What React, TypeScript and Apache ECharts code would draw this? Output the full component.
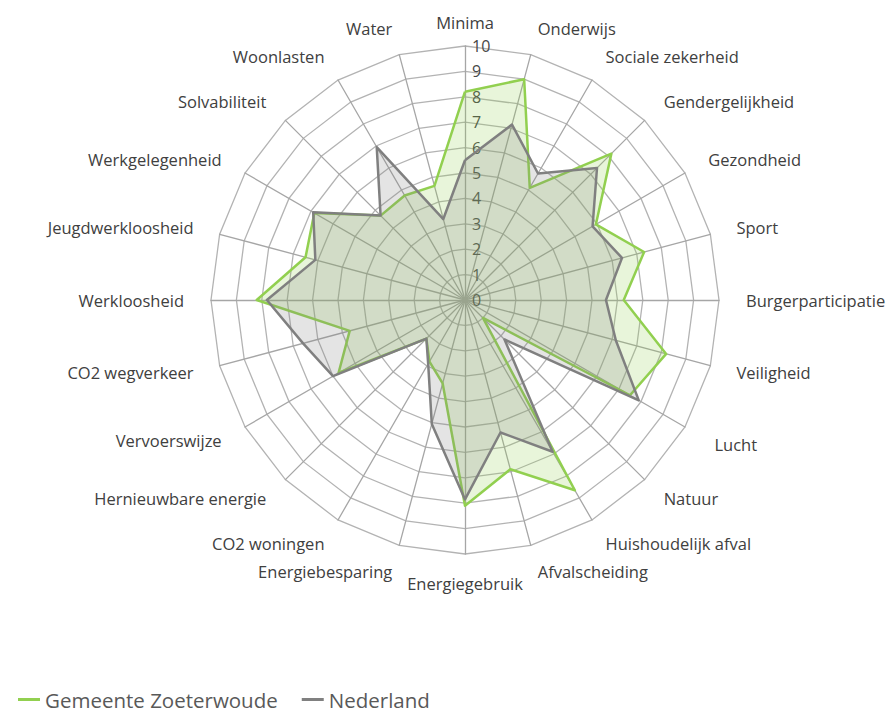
import React, { useEffect, useRef } from "react";
import * as echarts from "echarts";

// Indicators in clockwise order starting at the top
const indicatorNames: string[] = [
  "Minima",
  "Onderwijs",
  "Sociale zekerheid",
  "Gendergelijkheid",
  "Gezondheid",
  "Sport",
  "Burgerparticipatie",
  "Veiligheid",
  "Lucht",
  "Natuur",
  "Huishoudelijk afval",
  "Afvalscheiding",
  "Energiegebruik",
  "Energiebesparing",
  "CO2 woningen",
  "Hernieuwbare energie",
  "Vervoerswijze",
  "CO2 wegverkeer",
  "Werkloosheid",
  "Jeugdwerkloosheid",
  "Werkgelegenheid",
  "Solvabiliteit",
  "Woonlasten",
  "Water",
];

const zoeterwoude: number[] = [
  8.2, 9.0, 5.1, 8.15, 5.95, 7.3, 6.25, 8.2, 7.5, 1.0, 8.65, 6.9,
  8.1, 3.4, 2.8, 2.15, 5.75, 4.7, 8.2, 6.5, 6.85, 4.7, 4.75, 4.65,
];

const nederland: number[] = [
  5.5, 7.15, 5.75, 7.35, 5.8, 6.4, 5.55, 6.15, 7.9, 2.2, 6.9, 5.4,
  7.85, 5.05, 2.9, 2.15, 6.0, 6.6, 7.8, 6.1, 6.9, 4.7, 6.95, 3.3,
];

const scaleMin = 0;
const scaleMax = 10;
const scaleSplits = 10;

const seriesNames = ["Gemeente Zoeterwoude", "Nederland"];

export default function App() {
  const ref = useRef<HTMLDivElement>(null);

  useEffect(() => {
    if (!ref.current) return;
    const chart = echarts.init(ref.current, undefined, { renderer: "svg" });

    const n = indicatorNames.length;
    // ECharts radar runs counter-clockwise; reorder so the picture runs clockwise
    const order = indicatorNames.map((_, i) => (i === 0 ? 0 : n - i));
    const gapFor = (i: number) => {
      if (i === 0) return 15;
      if (i === n / 2) return 21;
      if (i === 8) return 34;
      return 27;
    };
    const indicator = order.map((i) => {
      const item: any = {
        name: indicatorNames[i],
        min: scaleMin,
        max: scaleMax,
        nameGap: gapFor(i),
      };
      if (i === 0) {
        item.axisLabel = {
          show: true,
          margin: -7,
          align: "left",
          color: "#474747",
          fontSize: 16,
          fontFamily: "Open Sans",
        };
      }
      return item;
    });
    const reorder = (arr: number[]) => order.map((i) => arr[i]);

    const green = "#92D050";
    const grey = "#808080";

    chart.setOption({
      animation: false,
      backgroundColor: "#ffffff",
      legend: {
        left: 13,
        top: 684,
        itemWidth: 22,
        itemHeight: 3,
        itemGap: 24,
        icon: "rect",
        data: seriesNames,
        textStyle: {
          color: "#595959",
          fontSize: 20.5,
          fontFamily: "Open Sans",
        },
      },
      radar: {
        center: [465, 300],
        radius: 254,
        startAngle: 90,
        shape: "polygon",
        splitNumber: scaleSplits,
        axisNameGap: 27,
        axisName: {
          color: "#404040",
          fontSize: 16.5,
          fontFamily: "Open Sans",
        },
        axisLine: { lineStyle: { color: "#a6a6a6", width: 1.3 } },
        splitLine: { lineStyle: { color: "#b3b3b3", width: 1.3 } },
        splitArea: { show: false },
        axisTick: { show: false },
        axisLabel: { show: false },
        indicator,
      },
      series: [
        {
          type: "radar",
          symbol: "none",
          data: [
            {
              name: seriesNames[0],
              value: reorder(zoeterwoude),
              lineStyle: { color: green, width: 2.5 },
              itemStyle: { color: green },
              areaStyle: { color: "rgba(146,208,80,0.3)" },
            },
            {
              name: seriesNames[1],
              value: reorder(nederland),
              lineStyle: { color: grey, width: 2.5 },
              itemStyle: { color: grey },
              areaStyle: { color: "rgba(128,128,128,0.3)" },
            },
          ],
        },
      ],
    });

    return () => chart.dispose();
  }, []);

  return (
    <div
      ref={ref}
      style={{ position: "fixed", left: 0, top: 0, width: 895, height: 715 }}
    />
  );
}
